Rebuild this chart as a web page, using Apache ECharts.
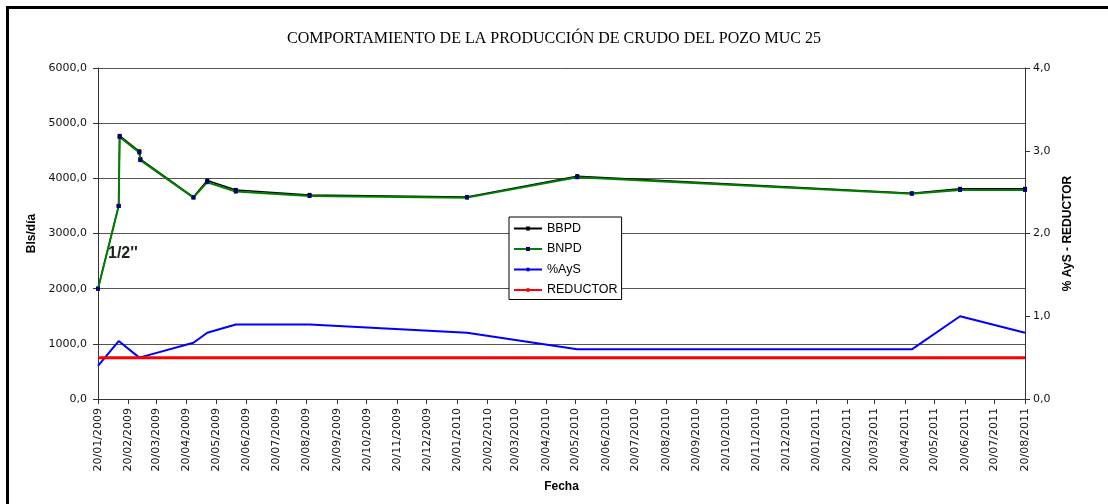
<!DOCTYPE html>
<html>
<head>
<meta charset="utf-8">
<script src="https://cdn.jsdelivr.net/npm/echarts@6/dist/echarts.min.js"></script>
<style>
  html, body { margin: 0; padding: 0; background: #fff; }
  #chart { width: 1108px; height: 504px; }
</style>
</head>
<body>
<div id="chart"></div>
<script>
// fechas de medicion
const fechas = ['20/01/2009', '10/02/2009', '11/02/2009', '03/03/2009', '04/03/2009', '27/04/2009',
  '11/05/2009', '09/06/2009', '23/08/2009', '30/01/2010', '22/05/2010', '27/04/2011',
  '15/06/2011', '20/08/2011'];
const bbpd = [2000, 3500, 4770, 4490, 4350, 3660, 3960, 3790, 3700, 3660, 4040, 3730, 3810, 3810];
const bnpd = [2000, 3500, 4750, 4470, 4330, 3650, 3930, 3760, 3680, 3650, 4020, 3720, 3790, 3790];
const ays = [0.4, 0.7, 0.69, 0.5, 0.5, 0.68, 0.8, 0.9, 0.9, 0.8, 0.6, 0.6, 1.0, 0.8];
const reductor = [0.5, 0.5, 0.5, 0.5, 0.5, 0.5, 0.5, 0.5, 0.5, 0.5, 0.5, 0.5, 0.5, 0.5];

// etiquetas del eje X (mensuales)
const meses = ['20/01/2009', '20/02/2009', '20/03/2009', '20/04/2009', '20/05/2009', '20/06/2009',
  '20/07/2009', '20/08/2009', '20/09/2009', '20/10/2009', '20/11/2009', '20/12/2009',
  '20/01/2010', '20/02/2010', '20/03/2010', '20/04/2010', '20/05/2010', '20/06/2010',
  '20/07/2010', '20/08/2010', '20/09/2010', '20/10/2010', '20/11/2010', '20/12/2010',
  '20/01/2011', '20/02/2011', '20/03/2011', '20/04/2011', '20/05/2011', '20/06/2011',
  '20/07/2011', '20/08/2011'];

// dias desde el 20/01/2009
const DIA = 86400000;
const origen = Date.UTC(2009, 0, 20);
function parseFecha(s) {
  const p = s.split('/');
  return Math.round((Date.UTC(+p[2], +p[1] - 1, +p[0]) - origen) / DIA);
}
function fmtFecha(v) {
  const d = new Date(origen + Math.round(v) * DIA);
  const pad = n => (n < 10 ? '0' : '') + n;
  return pad(d.getUTCDate()) + '/' + pad(d.getUTCMonth() + 1) + '/' + d.getUTCFullYear();
}
const ticks = meses.map(parseFecha);
const pares = arr => fechas.map((f, i) => [parseFecha(f), arr[i]]);

const chart = echarts.init(document.getElementById('chart'));
chart.setOption({
  backgroundColor: '#fff',
  animation: false,
  title: {
    text: 'COMPORTAMIENTO DE LA PRODUCCIÓN DE CRUDO DEL POZO MUC 25',
    left: 'center',
    top: 26,
    textStyle: { fontFamily: 'Liberation Serif', fontSize: 16, fontWeight: 'normal', color: '#000' }
  },
  graphic: [
    {
      type: 'rect',
      shape: { x: 7.5, y: 7.5, width: 1200, height: 600 },
      style: { fill: 'none', stroke: '#000', lineWidth: 3 },
      silent: true
    },
    {
      type: 'text',
      left: 108,
      top: 246,
      style: { text: '1/2\'\'', font: 'bold 16px "Liberation Sans"', fill: '#222' }
    }
  ],
  legend: {
    orient: 'vertical',
    left: 509,
    top: 217,
    padding: [5, 4, 3, 4],
    itemWidth: 28,
    itemHeight: 5,
    itemGap: 7.5,
    backgroundColor: '#fff',
    borderColor: '#000',
    borderWidth: 1,
    borderRadius: 0,
    textStyle: { fontFamily: 'Liberation Sans', fontSize: 12.5, color: '#000' },
    data: ['BBPD', 'BNPD', '%AyS', 'REDUCTOR']
  },
  grid: { left: 98, right: 83, top: 68, bottom: 105 },
  xAxis: {
    type: 'value',
    min: ticks[0],
    max: ticks[ticks.length - 1],
    name: 'Fecha',
    nameLocation: 'middle',
    nameGap: 82,
    nameTextStyle: { fontFamily: 'Liberation Sans', fontSize: 12, fontWeight: 'bold', color: '#000' },
    axisLine: { lineStyle: { color: '#333', width: 1 } },
    axisTick: { customValues: ticks, length: 5, lineStyle: { color: '#333' } },
    axisLabel: {
      customValues: ticks,
      rotate: 90,
      margin: 9,
      fontFamily: 'DejaVu Sans',
      fontSize: 11,
      color: '#111',
      formatter: fmtFecha
    },
    splitLine: { show: false }
  },
  yAxis: [
    {
      type: 'value',
      min: 0,
      max: 6000,
      interval: 1000,
      name: 'Bls/día',
      nameLocation: 'middle',
      nameRotate: 90,
      nameGap: 60,
      nameTextStyle: { fontFamily: 'Liberation Sans', fontSize: 12, fontWeight: 'bold', color: '#000' },
      axisLine: { show: true, lineStyle: { color: '#333' } },
      axisTick: { show: true, length: 5, lineStyle: { color: '#333' } },
      axisLabel: {
        margin: 11,
        fontFamily: 'DejaVu Sans',
        fontSize: 11,
        color: '#111',
        formatter: v => v.toFixed(1).replace('.', ',')
      },
      splitLine: { show: true, lineStyle: { color: '#555', width: 1 } }
    },
    {
      type: 'value',
      min: 0,
      max: 4,
      interval: 1,
      name: '% AyS - REDUCTOR',
      nameLocation: 'middle',
      nameRotate: 90,
      nameGap: 36,
      nameTextStyle: { fontFamily: 'Liberation Sans', fontSize: 12, fontWeight: 'bold', color: '#000' },
      axisLine: { show: true, lineStyle: { color: '#333' } },
      axisTick: { show: true, length: 5, lineStyle: { color: '#333' } },
      axisLabel: {
        margin: 8,
        fontFamily: 'DejaVu Sans',
        fontSize: 11,
        color: '#111',
        formatter: v => v.toFixed(1).replace('.', ',')
      },
      splitLine: { show: false }
    }
  ],
  series: [
    {
      name: 'BBPD',
      type: 'line',
      data: pares(bbpd),
      symbol: 'rect',
      symbolSize: 4,
      itemStyle: { color: '#000' },
      lineStyle: { color: '#000', width: 1.5 },
      z: 2
    },
    {
      name: 'BNPD',
      type: 'line',
      data: pares(bnpd),
      symbol: 'rect',
      symbolSize: 4,
      itemStyle: { color: '#000080' },
      lineStyle: { color: '#008000', width: 2 },
      z: 3
    },
    {
      name: '%AyS',
      type: 'line',
      yAxisIndex: 1,
      data: pares(ays),
      symbol: 'none',
      legendIcon: 'rect',
      itemStyle: { color: '#0000ff' },
      lineStyle: { color: '#0000ff', width: 2 },
      z: 4
    },
    {
      name: 'REDUCTOR',
      type: 'line',
      yAxisIndex: 1,
      data: pares(reductor),
      symbol: 'none',
      legendIcon: 'rect',
      itemStyle: { color: '#ff0000' },
      lineStyle: { color: '#ff0000', width: 3 },
      z: 5
    }
  ]
});
</script>
</body>
</html>
